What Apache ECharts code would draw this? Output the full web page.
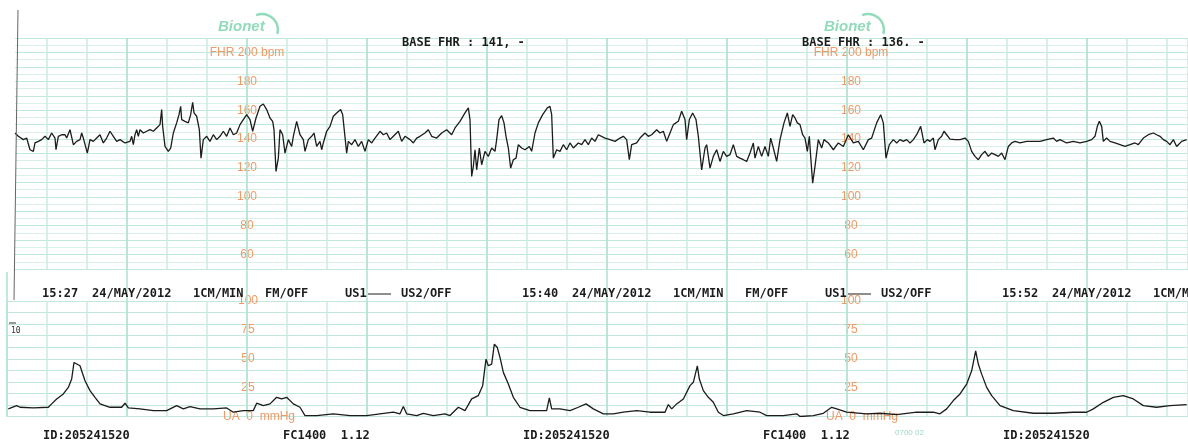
<!DOCTYPE html>
<html>
<head>
<meta charset="utf-8">
<script src="https://cdn.jsdelivr.net/npm/echarts@6/dist/echarts.min.js"></script>
<style>
  html, body { margin: 0; padding: 0; background: #ffffff; }
  #strip { width: 1188px; height: 445px; }
</style>
</head>
<body>
<div id="strip"></div>
<script>
// Fetal heart rate trace: [seconds from strip start, beats per minute]
const fhrTrace = [
  [12,144.2],[17,141.9],[19.5,143],[24.5,139.6],[29.5,140.7],[34.5,132.6],[39.5,131.5],[42,137.3],[47,138.4],[52,139.6],
  [57,141.9],[62,139.6],[67,144.2],[72,140.7],[73.5,132.6],[77,141.9],[82,143],[87,143],[89.5,140.7],[94.5,146.5],
  [97,145.4],[99.5,136.1],[104.5,138.4],[109.5,139.6],[112,144.2],[114.5,140.7],[120.5,130.3],[124.5,139.6],[129.5,138.4],[134.5,140.7],
  [139.5,143],[144.5,137.3],[149.5,140.7],[154.5,145.4],[157,146.5],[159.5,141.9],[164.5,138.4],[169.5,139.6],[177,137.3],[184.5,138.4],
  [187,141.9],[189.5,136.1],[192,143],[194.5,146.5],[197,141.9],[199.5,146.5],[204.5,144.2],[209.5,145.4],[214.5,146.5],[219.5,145.4],
  [224.5,147.7],[229.5,150],[232,160.4],[233.5,148.8],[237,134.9],[242,131.5],[245.5,133.8],[249.5,144.2],[254.5,151.2],[258,156.9],
  [260.5,162.7],[262,153.5],[267,152.3],[272,151.2],[275.5,156.9],[278.5,165.5],[280.5,158.1],[284.5,155.8],[288.5,146.5],[291,126.8],
  [294.5,139.6],[299.5,141.9],[304.5,138.4],[309.5,143],[314.5,139.6],[319.5,141.9],[324.5,145.4],[329.5,141.9],[334.5,147.7],[339.5,143],
  [344.5,144.2],[349.5,150],[354.5,153.5],[359.5,156.9],[364.5,153.5],[368.5,145.4],[373.5,154.6],[379.5,162.7],[384.5,164.3],[389.5,160.4],
  [394.5,154.6],[398.5,152.3],[400.5,146.5],[403.5,117.6],[407,126.8],[409.5,146.5],[413.5,143],[417,130.3],[422,139.6],[427,134.9],
  [429.5,141.9],[434.5,152.3],[439.5,143],[444.5,139.6],[447,131.5],[452,139.6],[457,141.9],[460.5,144.2],[464.5,134.9],[469.5,138.4],
  [472,132.6],[474.5,137.3],[479.5,145.4],[484.5,148.8],[489.5,155.8],[494.5,158.1],[500.5,160.4],[503.5,156.9],[509.5,130.3],[512,138.4],
  [517,136.1],[522,139.6],[527,134.9],[532,138.4],[537,131.5],[542,139.6],[547,137.3],[552,140.7],[559.5,145.4],[564.5,143],
  [569.5,144.2],[574.5,139.6],[579.5,141.9],[587,145.4],[592,138.4],[597,141.9],[604.5,139.6],[609.5,137.3],[614.5,140.7],[619.5,141.9],
  [627,144.2],[632,146.5],[637,141.9],[644.5,140.7],[652,144.2],[659.5,146.5],[667,143],[672,147.7],[679.5,152.3],[687,158.1],
  [692,161.6],[694.5,153.5],[697,114.1],[699.5,121.1],[702,132.6],[704.5,118.7],[708.5,133.8],[712,122.2],[717,131.5],[722,128],
  [727,133.8],[732,131.5],[734.5,139.6],[738,153.5],[742,156.2],[745.5,151.2],[748.5,141.9],[752,133.8],[755.5,119.9],[759.5,125.7],
  [763.5,126.8],[767,136.1],[772,133.8],[777,132.6],[783.5,134.9],[787,131.5],[792,144.2],[797,151.2],[803.5,156.9],[810.5,161.6],
  [814.5,162.7],[817,156.9],[819.5,126.8],[824.5,132.6],[829.5,131.5],[834.5,136.1],[839.5,132.6],[844.5,137.3],[849.5,133.8],[857,137.3],
  [862,136.1],[867,139.6],[872,136.1],[877,140.7],[882,138.4],[887,143],[897,140.7],[904.5,139.6],[912,138.4],[919.5,140.7],
  [924.5,141.9],[929.5,139.6],[933.5,125.7],[937,136.1],[944.5,137.3],[949.5,140.7],[957,144.2],[962,141.9],[967,143],[974.5,146.5],
  [979.5,144.2],[984.5,145.4],[989.5,138.4],[994.5,144.2],[999.5,150],[1007,152.3],[1012,159.3],[1017,153.5],[1019.5,139.6],[1023.5,153.5],
  [1028.5,158.1],[1033.5,153.5],[1037,141.9],[1042,118.7],[1047,133.8],[1049.5,136.1],[1054.5,119.9],[1059.5,128],[1064.5,132.6],[1069.5,124.5],
  [1074.5,131.5],[1079.5,128],[1084.5,129.2],[1089.5,136.1],[1094.5,128],[1099.5,126.8],[1104.5,125.7],[1109.5,124.5],[1114.5,130.3],[1119.5,137.3],
  [1122,126.8],[1127,134.9],[1132,128],[1137,134.9],[1142,128],[1145.5,140.7],[1149.5,133.8],[1154.5,124.5],[1159.5,139.6],[1165.5,151.2],
  [1170.5,158.1],[1174.5,148.8],[1178.5,156.9],[1182,154.6],[1185.5,151.2],[1189.5,150],[1193.5,143],[1197,140.7],[1200.5,131.5],[1203.5,141.9],
  [1205.5,128],[1208.5,109.5],[1212,121.1],[1217,139.6],[1222,133.8],[1225.5,139.6],[1232,137.3],[1239.5,132.6],[1247,137.3],[1254.5,134.9],
  [1262,143],[1269.5,137.3],[1277,138.4],[1284.5,132.6],[1292,139.6],[1297,140.7],[1304.5,151.2],[1310.5,156.9],[1314.5,151.2],[1318.5,126.8],
  [1323.5,136.1],[1329.5,139.6],[1334.5,137.3],[1339.5,139.6],[1344.5,138.4],[1349.5,139.6],[1354.5,137.3],[1359.5,139.6],[1364.5,143],[1370.5,148.8],
  [1375.5,137.3],[1380.5,139.6],[1384.5,138.4],[1389.5,140.7],[1392,132.6],[1397,139.6],[1402,141.9],[1405.5,145.4],[1409.5,143],[1414.5,140],
  [1422,139.6],[1429.5,139.6],[1437,140.7],[1442,138.4],[1447,131.5],[1452,128],[1457,125.7],[1462,129.2],[1467,131.5],[1472,128],
  [1477,130.3],[1482,129.2],[1487,128],[1492,130.3],[1497,125.7],[1502,134.9],[1507,137.3],[1512,138.4],[1519.5,137.3],[1529.5,138.4],
  [1539.5,138.4],[1549.5,138.4],[1559.5,139.6],[1569.5,140.7],[1574.5,138.4],[1579.5,139.6],[1589.5,137.3],[1599.5,138.4],[1609.5,137.3],[1619.5,138.4],
  [1627,139.6],[1632,141.9],[1635.5,148.8],[1638.5,152.3],[1642,148.8],[1644.5,138.4],[1649.5,140.7],[1654.5,138.4],[1662,137.3],[1669.5,136.1],
  [1677,134.9],[1684.5,136.1],[1692,137.3],[1697,136.1],[1704.5,140.7],[1712,143],[1719.5,144.2],[1724.5,143],[1729.5,141.9],[1734.5,139.6],
  [1739.5,138.4],[1744.5,136.1],[1749.5,139.6],[1754.5,134.9],[1762,138.4],[1769.5,139.6]
];

// Uterine activity trace: [seconds from strip start, mmHg]
const uaTrace = [
  [2,6.6],[14.5,9.4],[19.5,8],[39.5,7.4],[62,8],[67,10.9],[74.5,15.2],[84.5,19.5],[92,25.2],[97,32.4],
  [100.5,46.8],[103.5,48.2],[109.5,43.9],[117,31],[124.5,22.4],[132,16.6],[139.5,10.9],[154.5,8],[172,8],[177,11.5],
  [182,7.4],[199.5,6.6],[219.5,5.1],[239.5,5.1],[254.5,9.4],[264.5,6.6],[274.5,8.6],[289.5,6.6],[309.5,6.6],[329.5,7.4],
  [339.5,3.7],[354.5,5.1],[369.5,5.1],[374.5,11.5],[384.5,9.4],[394.5,10.9],[404.5,16.6],[412,15.2],[419.5,16.6],[429.5,10.9],
  [439.5,8],[447,0.8],[464.5,0.8],[489.5,2.3],[514.5,0.8],[539.5,0.8],[559.5,2.3],[579.5,3.7],[589.5,2.3],[594.5,8.6],
  [599.5,2.3],[614.5,0.8],[624.5,2.8],[639.5,0.8],[657,2.3],[659.5,3.7],[664.5,0.8],[677,8],[687,5.1],[697,15.2],
  [707,18.1],[713.5,26.7],[718.5,49.7],[722,43.9],[727,45.4],[731,62.6],[735.5,59.7],[739.5,51.1],[744.5,38.2],[752,28.1],
  [759.5,16.6],[769.5,8],[784.5,5.1],[809.5,5.1],[813.5,16.1],[817,6.6],[829.5,6.6],[844.5,5.1],[857,8],[868.5,10.9],
  [879.5,6.6],[894.5,2.3],[909.5,2.3],[924.5,3.7],[944.5,5.1],[964.5,3.7],[987,3.7],[992,10.3],[997,6.6],[1004.5,10.9],
  [1014.5,15.2],[1024.5,26.7],[1029.5,29.6],[1035.5,43.9],[1038.5,32.4],[1044.5,22.4],[1052,16.6],[1059.5,12.3],[1067,3.7],[1074.5,0.8],
  [1089.5,2.3],[1109.5,5.1],[1129.5,3.7],[1139.5,0.8],[1164.5,0.8],[1184.5,2.3],[1189.5,0],[1209.5,0.8],[1224.5,2.8],[1237,8],
  [1244.5,6.6],[1259.5,3.7],[1289.5,2.3],[1309.5,2.8],[1334.5,1.7],[1364.5,3.7],[1389.5,3.7],[1399.5,2.3],[1409.5,6.6],[1419.5,13.8],
  [1429.5,19.5],[1439.5,28.1],[1447,39.6],[1453,56.9],[1457,45.4],[1462,36.7],[1469.5,25.2],[1477,18.1],[1489.5,9.4],[1509.5,5.1],
  [1539.5,2.8],[1569.5,2.8],[1599.5,3.7],[1619.5,3.7],[1629.5,6.6],[1644.5,12.3],[1659.5,16.6],[1674.5,18.1],[1689.5,15.2],[1704.5,9.4],
  [1724.5,8],[1744.5,9.4],[1769.5,10.3]
];

// Scale figures printed on the paper
const fhrScaleTicks = [60, 80, 100, 120, 140, 160, 180];
const fhrScaleTop = 200;
const uaScaleTicks = [25, 50, 75, 100];

// Printed annotations
const headerTimes = ['15:27', '15:40', '15:52'];
const printDate = '24/MAY/2012';
const paperSpeed = '1CM/MIN';
const fmState = 'FM/OFF';
const us1Label = 'US1';
const us2Label = 'US2/OFF';
const baseFhrNotes = ['BASE FHR : 141, -', 'BASE FHR : 136. -'];
const patientId = 'ID:205241520';
const monitorInfo = 'FC1400  1.12';
const paperCode = '0700 02';
const brand = 'Bionet';

const STRIP_END = 1771.5;          // seconds shown across the strip
const RULING_STEP = 180;           // heavier paper ruling every 3 minutes
const PAPER_LEFT = 7;
const GRID_FINE = '#d9f0e8';
const GRID_MID = '#c0e8db';
const GRID_VERT = '#c9ece0';
const GRID_MAJOR = '#b2e4d4';
const SCALE_ORANGE = '#ee9a68';
const INK = '#1c1c1c';
const MONO = 'bold 12px "DejaVu Sans Mono", monospace';

const rulingTimes = [];
for (let t = 0; t <= STRIP_END; t += RULING_STEP) rulingTimes.push(t);

const chart = echarts.init(document.getElementById('strip'), null, { renderer: 'canvas' });

function timeAxis(gridIndex, interval, color, showLines, width) {
  return {
    type: 'value', gridIndex, min: 0, max: STRIP_END, interval,
    axisLine: { show: false }, axisTick: { show: false }, axisLabel: { show: false },
    splitLine: { show: showLines, lineStyle: { color, width: width || 1 } }
  };
}

function scaleAxis(gridIndex, min, max, interval, column, formatter, withLines, minor) {
  return {
    type: 'value', gridIndex, min, max, interval, position: 'left',
    offset: -(column - PAPER_LEFT),
    axisLine: { show: false }, axisTick: { show: false },
    axisLabel: {
      show: !!formatter, formatter: formatter || '', margin: 0, align: 'center',
      color: SCALE_ORANGE, fontSize: 12, fontFamily: '"Liberation Sans", Arial, sans-serif',
      showMinLabel: true, showMaxLabel: true,
      rich: { ua: { padding: [0, 0, 0, 22] } }
    },
    splitLine: { show: !!withLines, lineStyle: { color: GRID_MID, width: 1 } },
    minorTick: { show: false, splitNumber: minor || 2 },
    minorSplitLine: { show: !!minor, lineStyle: { color: GRID_FINE, width: 1 } }
  };
}

const fhrLabel = v => v === fhrScaleTop ? 'FHR ' + v + ' bpm' : (fhrScaleTicks.includes(v) ? String(v) : '');
const uaLabel = v => v === 0 ? '{ua|UA  0  mmHg}' : (uaScaleTicks.includes(v) ? String(v) : '');

// Printed text on the paper
const graphics = [];
function mono(text, x, y) {
  graphics.push({
    type: 'text', x, y, z: 50,
    style: { text, font: MONO, fill: INK, textVerticalAlign: 'middle', verticalAlign: 'middle' }
  });
}
headerTimes.forEach((time, i) => {
  const dx = i * 480;
  mono(time, 42 + dx, 294);
  mono(printDate, 92 + dx, 294);
  mono(paperSpeed, 193 + dx, 294);
  mono(fmState, 265 + dx, 294);
  mono(us1Label, 345 + dx, 294);
  graphics.push({ type: 'line', z: 50, shape: { x1: 368 + dx, y1: 294, x2: 391 + dx, y2: 294 }, style: { stroke: INK, lineWidth: 1 } });
  mono(us2Label, 401 + dx, 294);
  mono(patientId, 43 + dx, 436);
  if (i < 2) mono(monitorInfo, 283 + dx, 436);
});
baseFhrNotes.forEach((note, i) => mono(note, 402 + i * 400, 43));
graphics.push({
  type: 'text', x: 895, y: 433, z: 50,
  style: { text: paperCode, font: '8px "Liberation Sans", sans-serif', fill: '#9fd6c4', textVerticalAlign: 'middle', verticalAlign: 'middle' }
});
// brand marks
[218, 824].forEach(bx => {
  graphics.push({
    type: 'text', x: bx, y: 27, z: 50,
    style: { text: brand, font: 'italic bold 15px "Liberation Sans", Arial, sans-serif', fill: '#92dbbb', textVerticalAlign: 'middle', verticalAlign: 'middle' }
  });
  graphics.push({
    type: 'arc', z: 50,
    shape: { cx: bx + 44, cy: 30, r: 16, startAngle: -Math.PI * 0.62, endAngle: Math.PI * 0.08, clockwise: true },
    style: { stroke: '#92dbbb', lineWidth: 2.5, fill: null }
  });
});
// blank paper margin left of the torn edge
graphics.push({ type: 'rect', z: 3, shape: { x: 0, y: 30, width: 15, height: 242 }, style: { fill: '#ffffff' } });
// paper edge
graphics.push({ type: 'line', z: 50, shape: { x1: 18, y1: 10, x2: 14, y2: 300 }, style: { stroke: '#666', lineWidth: 1 } });
// small marker at the left of the UA band
graphics.push({ type: 'line', z: 50, shape: { x1: 9, y1: 323, x2: 16, y2: 323 }, style: { stroke: '#333', lineWidth: 1 } });
graphics.push({ type: 'text', x: 11, y: 331, z: 50, style: { text: '10', font: '8px "DejaVu Sans Mono", monospace', fill: '#333', textVerticalAlign: 'middle', verticalAlign: 'middle' } });

const option = {
  backgroundColor: '#ffffff',
  animation: false,
  grid: [
    { left: PAPER_LEFT, right: 0, top: 38, height: 231 },      // FHR band
    { left: PAPER_LEFT, right: 0, top: 301, height: 115.5 },   // UA band
    { left: PAPER_LEFT, right: 0, top: 38, height: 378.5 }     // 3-minute rulings through both bands
  ],
  xAxis: [
    timeAxis(0, 60, GRID_VERT, true, 1.5),
    timeAxis(1, 60, GRID_VERT, true, 1.5),
    timeAxis(2, RULING_STEP, GRID_MAJOR, false)
  ],
  yAxis: [
    scaleAxis(0, 50, 210, 10, 247, fhrLabel, true, 2),
    scaleAxis(0, 50, 210, 10, 851, fhrLabel, false),
    scaleAxis(1, 0, 100, 10, 0 + PAPER_LEFT, null, true, 0),
    scaleAxis(1, 0, 100, 25, 248, uaLabel, false),
    scaleAxis(1, 0, 100, 25, 851, uaLabel, false),
    {
      type: 'value', gridIndex: 2, min: 0, max: 1,
      axisLine: { show: false }, axisTick: { show: false }, axisLabel: { show: false },
      splitLine: { show: false }
    }
  ],
  series: [
    {
      // heavier 3-minute rulings running through both bands
      name: 'rulings', type: 'custom', xAxisIndex: 2, yAxisIndex: 5, silent: true, z: 1,
      data: rulingTimes.map(t => [t]),
      renderItem: (params, api) => {
        const top = api.coord([api.value(0), 1]);
        const bottom = api.coord([api.value(0), 0]);
        return {
          type: 'line',
          shape: { x1: top[0], y1: top[1], x2: bottom[0], y2: bottom[1] },
          style: { stroke: GRID_MAJOR, lineWidth: 1.6 }
        };
      }
    },
    {
      name: 'FHR', type: 'line', xAxisIndex: 0, yAxisIndex: 0, data: fhrTrace,
      symbol: 'none', lineStyle: { color: INK, width: 1.3 }, z: 10
    },
    {
      name: 'UA', type: 'line', xAxisIndex: 1, yAxisIndex: 2, data: uaTrace,
      symbol: 'none', lineStyle: { color: INK, width: 1.3 }, z: 10
    }
  ],
  graphic: graphics
};

chart.setOption(option);
</script>
</body>
</html>
